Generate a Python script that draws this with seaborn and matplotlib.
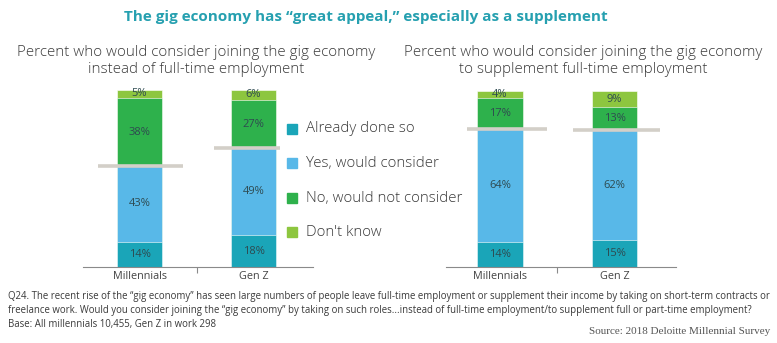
import matplotlib
matplotlib.use("Agg")
import matplotlib.pyplot as plt
import seaborn as sns
import pandas as pd
import numpy as np
from matplotlib.patches import Rectangle

sns.set_theme(style="white")
plt.rcParams['font.family'] = ['Open Sans', 'DejaVu Sans']

# ---------------- data ----------------
categories = ["Millennials", "Gen Z"]
series_names = ["Already done so", "Yes, would consider", "No, would not consider", "Don't know"]

instead_done = [14, 18]
instead_yes = [43, 49]
instead_no = [38, 27]
instead_dk = [5, 6]

supp_done = [14, 15]
supp_yes = [64, 62]
supp_no = [17, 13]
supp_dk = [4, 9]

title = "The gig economy has \u201cgreat appeal,\u201d especially as a supplement"
subtitle_left = "Percent who would consider joining the gig economy\ninstead of full-time employment"
subtitle_right = "Percent who would consider joining the gig economy\nto supplement full-time employment"
footnote_lines = [
    "Q24. The recent rise of the \u201cgig economy\u201d has seen large numbers of people leave full-time employment or supplement their income by taking on short-term contracts or",
    "freelance work. Would you consider joining the \u201cgig economy\u201d by taking on such roles...instead of full-time employment/to supplement full or part-time employment?",
    "Base: All millennials 10,455, Gen Z in work 298",
]
source = "Source: 2018 Deloitte Millennial Survey"

# ---------------- style ----------------
colors = ["#1aa5b8", "#58b8e8", "#2eb14c", "#8dc63f"]
label_color = "#2e4a50"
divider_color = "#d3cfc8"
W, H = 777, 343
fig = plt.figure(figsize=(W / 100, H / 100), dpi=100)

def px_axes(x0, x1, ytop, ybot):
    return fig.add_axes([x0 / W, 1 - ybot / H, (x1 - x0) / W, (ybot - ytop) / H])

ax_l = px_axes(83, 313, 89.5, 267)
ax_r = px_axes(446, 676, 89.5, 267)

panels = [
    (ax_l, [instead_done, instead_yes, instead_no, instead_dk], (-0.496, 1.522),
     [(0.364, 0.381), (0.346, 0.232)]),
    (ax_r, [supp_done, supp_yes, supp_no, supp_dk], (-0.472, 1.537),
     [(0.285, 0.408), (0.364, 0.399)]),
]

bar_w = 0.395
for ax, series, xlim, div_ext in panels:
    vals = np.array(series, dtype=float)
    cum = np.cumsum(vals, axis=0)
    for k in range(len(series) - 1, -1, -1):
        df = pd.DataFrame({"cat": categories, "val": cum[k]})
        sns.barplot(data=df, x="cat", y="val", order=categories, color=colors[k],
                    saturation=1, width=bar_w, ax=ax, errorbar=None,
                    edgecolor="white", linewidth=0.4)
    for k in range(len(series)):
        for i in range(len(categories)):
            v = vals[k, i]
            mid = cum[k, i] - v / 2
            ax.text(i, mid, f"{int(v)}%", ha="center", va="center",
                    fontsize=8, color=label_color, zorder=5)
    for i in range(len(categories)):
        lft, rgt = div_ext[i]
        ax.hlines(cum[1, i], i - lft, i + rgt, color=divider_color, lw=2.6, zorder=6,
                  clip_on=False)
    ax.set_xlim(*xlim)
    ax.set_ylim(0, 100)
    ax.set_xlabel("")
    ax.set_ylabel("")
    ax.set_yticks([])
    for s in ["top", "left", "right"]:
        ax.spines[s].set_visible(False)
    ax.spines["bottom"].set_color("#8a8a8a")
    ax.spines["bottom"].set_linewidth(0.8)
    ax.set_xticks([0, 1])
    ax.set_xticklabels(categories, fontsize=7.8, color="#444444")
    ax.tick_params(axis="x", which="major", length=0, pad=3)
    ax.set_xticks([0.5], minor=True)
    ax.tick_params(axis="x", which="minor", length=4, width=0.8, color="#8a8a8a",
                   direction="out", bottom=True)

# titles
fig.text(366 / W, 1 - 17 / H, title, ha="center", va="center", fontsize=11,
         fontweight="bold", color="#26a0b0")
fig.text(196 / W, 1 - 61 / H, subtitle_left, ha="center", va="center", fontsize=10.9,
         fontweight="light", color="#3a3a3a", linespacing=1.2)
fig.text(583 / W, 1 - 61 / H, subtitle_right, ha="center", va="center", fontsize=10.9,
         fontweight="light", color="#3a3a3a", linespacing=1.2)

# legend
leg_rows = [129, 163, 198, 232]
for k, name in enumerate(series_names):
    y = leg_rows[k]
    fig.patches.append(Rectangle((287 / W, 1 - (y + 5) / H), 10 / W, 10 / H,
                                 transform=fig.transFigure, color=colors[k]))
    fig.text(306 / W, 1 - y / H, name, ha="left", va="center", fontsize=10.8,
             fontweight="light", color="#3a3a3a")

# footnote: fit first line into the width the reference uses
renderer = fig.canvas.get_renderer()
probe = fig.text(0, 0, footnote_lines[0], fontsize=10)
w10 = probe.get_window_extent(renderer).width
probe.remove()
fn_size = 10 * 760 / w10
for j, line in enumerate(footnote_lines):
    fig.text(8 / W, 1 - (297 + 14 * j) / H, line, ha="left", va="center",
             fontsize=fn_size, color="#3a3a3a")
fig.text(770 / W, 1 - 332 / H, source, ha="right", va="center", fontsize=8,
         family=["Liberation Serif", "DejaVu Serif"], color="#555555")

fig.savefig("out.png", dpi=100)
